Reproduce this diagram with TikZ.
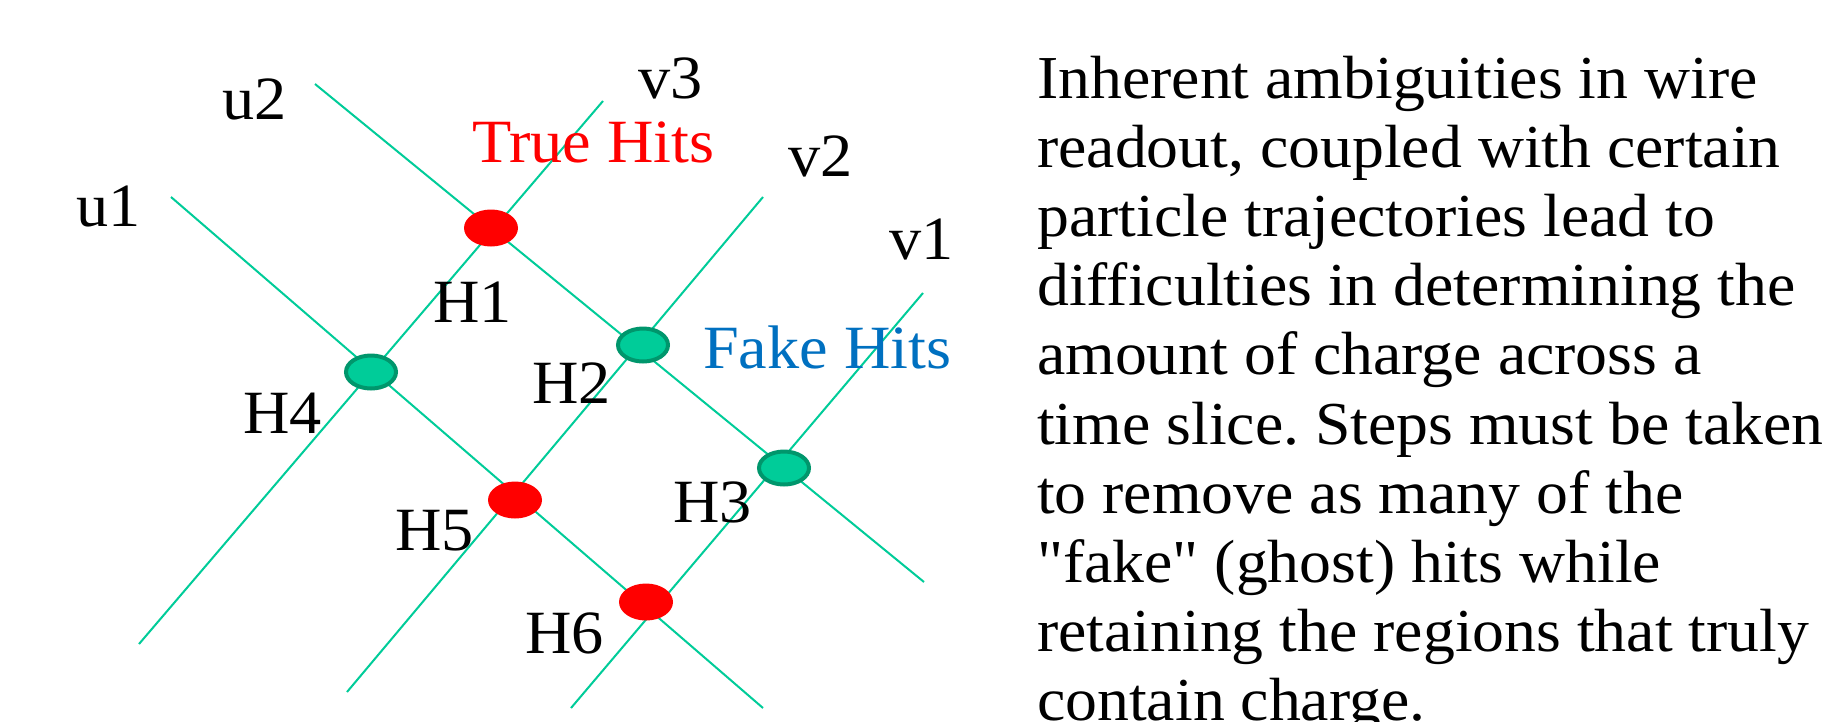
\documentclass[tikz,border=0pt]{standalone}
\usepackage{fontspec}
\setmainfont{Liberation Serif}[FakeStretch=1.045,Ligatures=TeXOff]
\usetikzlibrary{shapes.geometric}
\definecolor{wire}{RGB}{0,204,153}
\definecolor{fakefill}{RGB}{0,204,153}
\definecolor{fakeedge}{RGB}{0,150,108}
\definecolor{truered}{RGB}{255,0,0}
\definecolor{fakeblue}{RGB}{0,112,192}
\frenchspacing
\begin{document}
\begin{tikzpicture}[x=1pt,y=-1pt,
  wirestyle/.style={draw=wire,line width=2pt},
  truehit/.style={ellipse,fill=truered,minimum width=54pt,minimum height=37pt,inner sep=0pt},
  fakehit/.style={ellipse,fill=fakefill,draw=fakeedge,line width=4pt,minimum width=50pt,minimum height=33pt,inner sep=0pt},
  lbl/.style={anchor=base west,inner sep=0pt,font=\fontsize{61.5}{62}\selectfont},
  para/.style={anchor=base west,inner sep=0pt,font=\fontsize{61}{69}\selectfont}]
\fill[white] (0,0) rectangle (1830,721);
\path[use as bounding box] (0,0) rectangle (1830,721);
\clip (0,0) rectangle (1830,721);
% wires
\coordinate (u2a) at (315,84);  \coordinate (u2b) at (924,582);
\coordinate (u1a) at (171,197); \coordinate (u1b) at (763,708);
\coordinate (v3a) at (603,101); \coordinate (v3b) at (139,644);
\coordinate (v2a) at (763,197); \coordinate (v2b) at (347,692);
\coordinate (v1a) at (923,293); \coordinate (v1b) at (571,708);
\draw[wirestyle] (u2a) -- (u2b);
\draw[wirestyle] (u1a) -- (u1b);
\draw[wirestyle] (v3a) -- (v3b);
\draw[wirestyle] (v2a) -- (v2b);
\draw[wirestyle] (v1a) -- (v1b);
% hits
\node[truehit] (h1) at (491,228) {};
\node[fakehit] (h2) at (643,345) {};
\node[fakehit] (h3) at (784,468) {};
\node[fakehit] (h4) at (371,372) {};
\node[truehit] (h5) at (515,500) {};
\node[truehit] (h6) at (646,602) {};
% labels
\node[lbl] (lu2) at (222,119) {u2};
\node[lbl] (lu1) at (76,226) {u1};
\node[lbl] (lv3) at (638,98) {v3};
\node[lbl] (lv2) at (788,176) {v2};
\node[lbl] (lv1) at (889,259) {v1};
\node[lbl,text=truered] (ltrue) at (472,162) {True Hits};
\node[lbl,text=fakeblue] (lfake) at (703,368) {Fake Hits};
\node[lbl] (lh1) at (433,322) {H1};
\node[lbl] (lh2) at (532,403) {H2};
\node[lbl] (lh4) at (243,433) {H4};
\node[lbl] (lh5) at (395,550) {H5};
\node[lbl] (lh3) at (673,522) {H3};
\node[lbl] (lh6) at (525,653) {H6};
% paragraph
\node[para] (t1) at (1037,98) {Inherent ambiguities in wire};
\node[para] (t2) at (1037,167.2) {readout, coupled with certain};
\node[para] (t3) at (1037,236.4) {particle trajectories lead to};
\node[para] (t4) at (1037,305.6) {difficulties in determining the};
\node[para] (t5) at (1037,374.8) {amount of charge across a};
\node[para] (t6) at (1037,444) {time slice. Steps must be taken};
\node[para] (t7) at (1037,513.2) {to remove as many of the};
\node[para] (t8) at (1037,582.4) {"fake" (ghost) hits while};
\node[para] (t9) at (1037,651.6) {retaining the regions that truly};
\node[para] (t10) at (1037,720.8) {contain charge.};
\end{tikzpicture}
\end{document}
